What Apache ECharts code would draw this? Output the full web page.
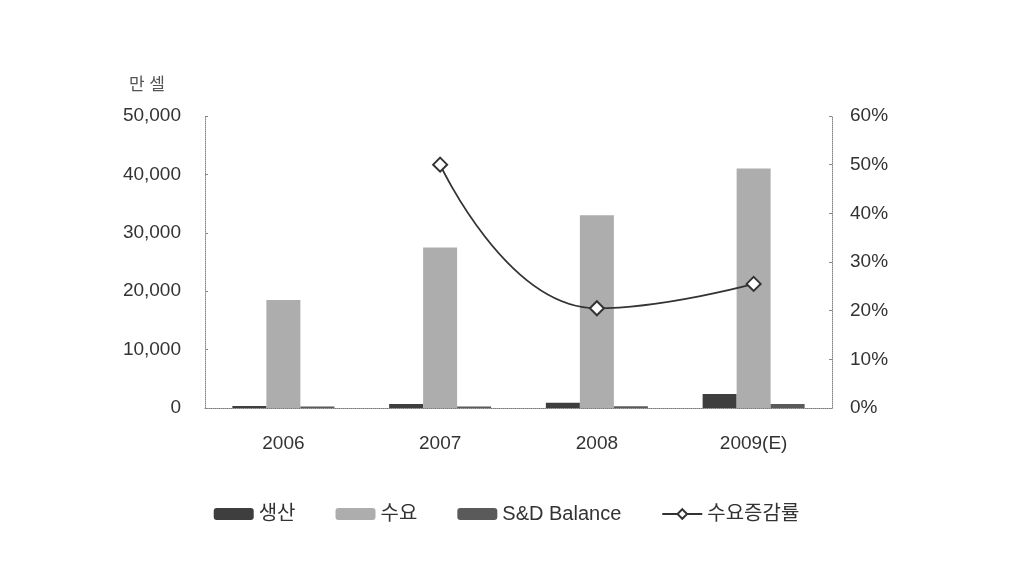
<!DOCTYPE html>
<html>
<head>
<meta charset="utf-8">
<script src="https://cdn.jsdelivr.net/npm/echarts@6/dist/echarts.min.js"></script>
<style>html,body{margin:0;padding:0;background:#fff;}#c{width:1013px;height:585px;}</style>
</head>
<body>
<div id="c"></div>
<script>
const categories = ['2006', '2007', '2008', '2009(E)'];
const production = [350, 700, 900, 2400];
const demand = [18500, 27500, 33000, 41000];
const balance = [250, 250, 300, 700];
const demandGrowth = [null, 50, 20.5, 25.5];
const leftTicks = {min: 0, max: 50000, interval: 10000};
const rightTicks = {min: 0, max: 60, interval: 10};

const font = '"Liberation Sans", Arial, "Noto Sans CJK KR", sans-serif';
const chart = echarts.init(document.getElementById('c'));
chart.setOption({
  animation: false,
  backgroundColor: '#fff',
  textStyle: {fontFamily: font},
  grid: {left: 205, right: 181, top: 116, bottom: 177, containLabel: false},
  legend: {
    bottom: 56, left: 'center',
    itemWidth: 40, itemHeight: 12, itemGap: 40,
    textStyle: {fontFamily: font, fontSize: 20, color: '#333'},
    data: ['생산', '수요', 'S&D Balance', '수요증감률']
  },
  xAxis: {
    type: 'category', data: categories,
    axisLine: {lineStyle: {color: '#777', type: 'dotted', width: 1}},
    axisTick: {show: false},
    axisLabel: {fontFamily: font, fontSize: 19, color: '#333', margin: 26}
  },
  yAxis: [{
    type: 'value', min: leftTicks.min, max: leftTicks.max, interval: leftTicks.interval,
    name: '만 셀', nameGap: 22, nameTextStyle: {fontFamily: font, fontSize: 17, color: '#555', align: 'right', padding: [0, 40, 0, 0]},
    axisLine: {show: true, lineStyle: {color: '#888', type: 'dotted'}},
    axisTick: {show: true, length: 3, inside: true, lineStyle: {color: '#888'}},
    splitLine: {show: false},
    axisLabel: {fontFamily: font, fontSize: 19, color: '#333', margin: 24,
      formatter: v => v.toLocaleString('en-US')}
  }, {
    type: 'value', min: rightTicks.min, max: rightTicks.max, interval: rightTicks.interval,
    axisLine: {show: true, lineStyle: {color: '#888', type: 'dotted'}},
    axisTick: {show: true, length: 3, inside: true, lineStyle: {color: '#888'}},
    splitLine: {show: false},
    axisLabel: {fontFamily: font, fontSize: 19, color: '#333', margin: 18, formatter: '{value}%'}
  }],
  series: [
    {name: '생산', type: 'bar', data: production, barWidth: 34, barGap: '0%',
      itemStyle: {color: '#3e3e3e'}},
    {name: '수요', type: 'bar', data: demand, barWidth: 34, barGap: '0%',
      itemStyle: {color: '#adadad'}},
    {name: 'S&D Balance', type: 'bar', data: balance, barWidth: 34, barGap: '0%',
      itemStyle: {color: '#5a5a5a'}},
    {name: '수요증감률', type: 'line', yAxisIndex: 1, data: demandGrowth, smooth: 0.5,
      symbol: 'emptyDiamond', symbolSize: 14, connectNulls: false,
      lineStyle: {color: '#333', width: 1.8},
      itemStyle: {color: '#333', borderWidth: 1.5, borderColor: '#333'}}
  ]
});
</script>
</body>
</html>
